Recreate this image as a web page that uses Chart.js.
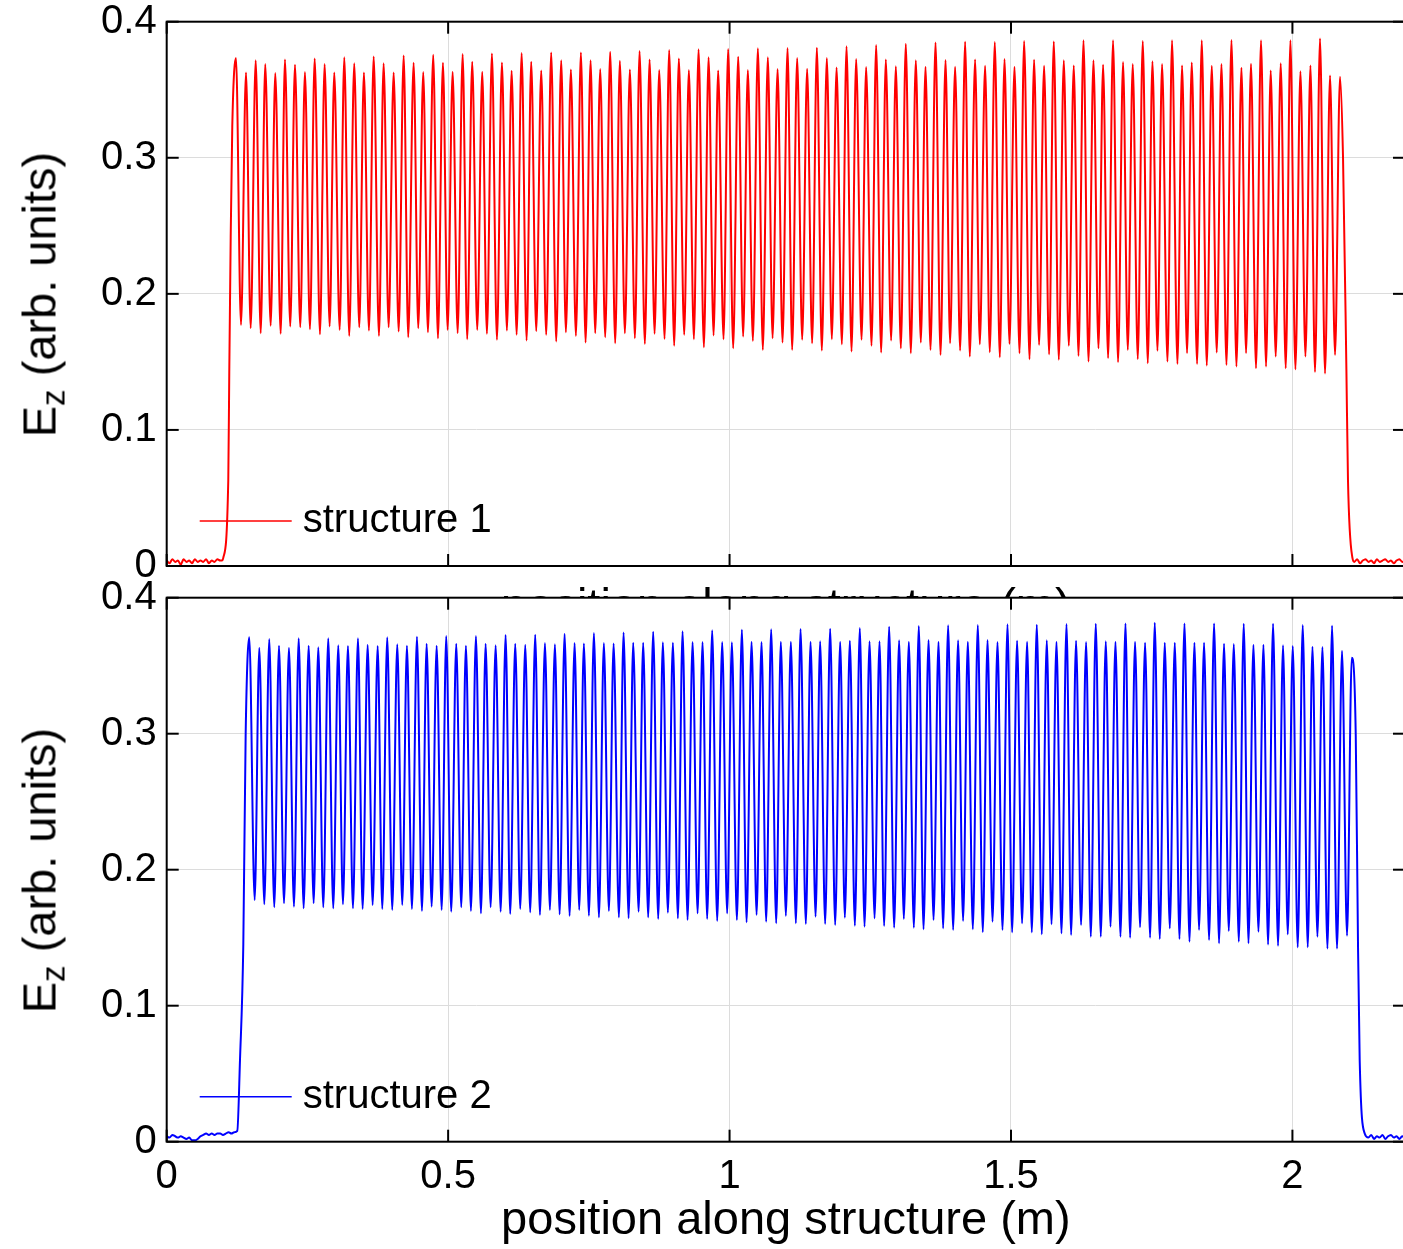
<!DOCTYPE html>
<html>
<head>
<meta charset="utf-8">
<script src="https://cdn.jsdelivr.net/npm/chart.js@4.4.1/dist/chart.umd.min.js"></script>
<style>
  html, body { margin: 0; padding: 0; background: #fff; overflow: hidden; }
  body { width: 1403px; height: 1249px; position: relative; }
  canvas { position: absolute; left: 0; }
  #c1 { top: 0; }
  #c2 { top: 577px; }
  .ylab {
    position: absolute; width: 400px; height: 47px; left: -161px;
    text-align: center; white-space: nowrap; color: #000;
    font-family: "Liberation Sans", Arial, sans-serif; font-size: 47px; line-height: 47px;
    transform: rotate(-90deg);
  }
  .ylab sub { font-size: 33px; line-height: 0; vertical-align: -9px; }
  #yl1 { top: 271px; }
  #yl2 { top: 847px; }
</style>
</head>
<body>
<canvas id="c1" width="1410" height="640"></canvas>
<canvas id="c2" width="1410" height="672"></canvas>
<div class="ylab" id="yl1">E<sub>z</sub> (arb. units)</div>
<div class="ylab" id="yl2">E<sub>z</sub> (arb. units)</div>
<script>
// axes
var xTicks = [0, 0.5, 1, 1.5, 2];
var xTickLabels = ["0", "0.5", "1", "1.5", "2"];
var yTicks = [0, 0.1, 0.2, 0.3, 0.4];
var yTickLabels = ["0", "0.1", "0.2", "0.3", "0.4"];
var xTitle = "position along structure (m)";
var seriesNames = ["structure 1", "structure 2"];

// structure 1 : flat part, rising edge, cell maxima / minima, falling edge
var s1StartX = [0, 0.005, 0.010, 0.015, 0.020, 0.025, 0.030, 0.035, 0.040, 0.045, 0.050, 0.055, 0.060, 0.065, 0.070, 0.075, 0.080, 0.085, 0.090, 0.095, 0.0982, 0.1005, 0.1094, 0.1112, 0.1137, 0.1165];
var s1StartY = [0.004, 0.002, 0.005, 0.003, 0.004, 0.001, 0.005, 0.003, 0.004, 0.002, 0.005, 0.003, 0.004, 0.003, 0.005, 0.002, 0.004, 0.003, 0.005, 0.004, 0.004, 0.006, 0.063, 0.144, 0.242, 0.323];
var s1PeakX = [0.1231,0.1409,0.1581,0.1751,0.1929,0.2101,0.2279,0.2456,0.2629,0.2806,
  0.2977,0.3155,0.3332,0.3504,0.3677,0.3854,0.4032,0.4210,0.4387,0.4558,
  0.4735,0.4908,0.5080,0.5258,0.5428,0.5606,0.5778,0.5956,0.6128,0.6306,
  0.6476,0.6654,0.6831,0.7009,0.7181,0.7359,0.7531,0.7702,0.7879,0.8051,
  0.8229,0.8401,0.8579,0.8750,0.8927,0.9099,0.9277,0.9449,0.9627,0.9797,
  0.9975,1.0153,1.0325,1.0503,1.0680,1.0853,1.1030,1.1201,1.1378,1.1551,
  1.1728,1.1901,1.2078,1.2249,1.2426,1.2604,1.2776,1.2954,1.3131,1.3309,
  1.3481,1.3659,1.3837,1.4007,1.4185,1.4362,1.4540,1.4712,1.4885,1.5062,
  1.5233,1.5410,1.5588,1.5760,1.5938,1.6115,1.6288,1.6465,1.6636,1.6813,
  1.6991,1.7163,1.7341,1.7513,1.7684,1.7861,1.8039,1.8211,1.8389,1.8567,
  1.8739,1.8917,1.9094,1.9264,1.9442,1.9614,1.9792,1.9964,2.0142,2.0320,
  2.0490,2.0668,2.0845];
var s1PeakY = [0.3733,0.3627,0.3716,0.3689,0.3623,0.3723,0.3684,0.3630,0.3730,0.3689,
  0.3627,0.3738,0.3694,0.3627,0.3745,0.3694,0.3627,0.3752,0.3699,0.3630,
  0.3757,0.3699,0.3632,0.3762,0.3706,0.3632,0.3767,0.3701,0.3640,0.3770,
  0.3706,0.3642,0.3774,0.3716,0.3649,0.3774,0.3716,0.3652,0.3779,0.3713,
  0.3649,0.3784,0.3723,0.3645,0.3792,0.3730,0.3645,0.3797,0.3738,0.3642,
  0.3799,0.3743,0.3645,0.3804,0.3738,0.3652,0.3806,0.3733,0.3654,0.3809,
  0.3733,0.3664,0.3819,0.3725,0.3667,0.3828,0.3723,0.3672,0.3838,0.3716,
  0.3669,0.3848,0.3718,0.3669,0.3853,0.3723,0.3676,0.3850,0.3725,0.3669,
  0.3858,0.3721,0.3676,0.3855,0.3716,0.3679,0.3863,0.3716,0.3684,0.3863,
  0.3703,0.3689,0.3858,0.3709,0.3689,0.3863,0.3679,0.3701,0.3863,0.3676,
  0.3689,0.3865,0.3662,0.3691,0.3863,0.3642,0.3694,0.3863,0.3635,0.3679,
  0.3877,0.3605,0.3596];
var s1DipX = [0.1320,0.1492,0.1670,0.1847,0.2025,0.2195,0.2373,0.2545,0.2723,0.2895,
  0.3073,0.3243,0.3421,0.3593,0.3771,0.3943,0.4121,0.4291,0.4469,0.4641,
  0.4819,0.4991,0.5169,0.5339,0.5517,0.5689,0.5867,0.6044,0.6217,0.6394,
  0.6565,0.6742,0.6920,0.7092,0.7270,0.7442,0.7613,0.7790,0.7968,0.8140,
  0.8318,0.8495,0.8668,0.8845,0.9016,0.9194,0.9366,0.9544,0.9716,0.9893,
  1.0064,1.0241,1.0414,1.0591,1.0764,1.0941,1.1112,1.1290,1.1467,1.1639,
  1.1817,1.1995,1.2167,1.2345,1.2522,1.2693,1.2870,1.3043,1.3220,1.3398,
  1.3570,1.3748,1.3918,1.4096,1.4268,1.4446,1.4623,1.4801,1.4973,1.5151,
  1.5329,1.5499,1.5677,1.5849,1.6027,1.6199,1.6377,1.6554,1.6725,1.6902,
  1.7075,1.7252,1.7430,1.7602,1.7780,1.7957,1.8128,1.8306,1.8478,1.8655,
  1.8828,1.9005,1.9176,1.9353,1.9531,1.9703,1.9881,2.0053,2.0231,2.0401,
  2.0579,2.0757];
var s1DipY = [0.1772,0.1748,0.1711,0.1765,0.1706,0.1760,0.1755,0.1740,0.1703,0.1760,
  0.1735,0.1691,0.1755,0.1730,0.1691,0.1755,0.1723,0.1681,0.1748,0.1718,
  0.1674,0.1735,0.1711,0.1667,0.1735,0.1706,0.1662,0.1730,0.1699,0.1657,
  0.1726,0.1699,0.1650,0.1718,0.1691,0.1642,0.1711,0.1681,0.1637,0.1711,
  0.1674,0.1632,0.1706,0.1669,0.1618,0.1699,0.1667,0.1608,0.1694,0.1667,
  0.1600,0.1686,0.1654,0.1588,0.1674,0.1642,0.1588,0.1662,0.1637,0.1583,
  0.1667,0.1630,0.1576,0.1662,0.1618,0.1569,0.1657,0.1600,0.1564,0.1642,
  0.1588,0.1551,0.1637,0.1583,0.1539,0.1630,0.1571,0.1534,0.1632,0.1564,
  0.1520,0.1625,0.1556,0.1515,0.1618,0.1544,0.1502,0.1600,0.1527,0.1498,
  0.1588,0.1520,0.1490,0.1581,0.1502,0.1485,0.1564,0.1485,0.1473,0.1569,
  0.1478,0.1466,0.1564,0.1453,0.1466,0.1539,0.1453,0.1445,0.1539,0.1425,
  0.1415,0.1551];
var s1EndX = [2.0899, 2.0959, 2.0987, 2.1066, 2.110, 2.115, 2.120, 2.125, 2.130, 2.135, 2.140, 2.145, 2.150, 2.155, 2.160, 2.165, 2.170, 2.175, 2.180, 2.185, 2.190, 2.195, 2.200];
var s1EndY = [0.300, 0.144, 0.063, 0.006, 0.003, 0.005, 0.002, 0.004, 0.005, 0.003, 0.004, 0.002, 0.005, 0.003, 0.004, 0.005, 0.003, 0.004, 0.002, 0.004, 0.005, 0.003, 0.004];

// structure 2
var s2StartX = [0, 0.005, 0.010, 0.015, 0.020, 0.025, 0.030, 0.035, 0.040, 0.045, 0.050, 0.055, 0.060, 0.065, 0.070, 0.075, 0.080, 0.085, 0.090, 0.095, 0.100, 0.105, 0.110, 0.115, 0.120, 0.1254, 0.1302, 0.1361, 0.1403];
var s2StartY = [0.004, 0.003, 0.005, 0.004, 0.003, 0.004, 0.003, 0.002, 0.003, 0.001, 0.001, 0.002, 0.004, 0.005, 0.006, 0.005, 0.006, 0.005, 0.006, 0.006, 0.005, 0.006, 0.007, 0.006, 0.007, 0.008, 0.060, 0.145, 0.300];
var s2PeakX = [0.1467,0.1645,0.1822,0.1995,0.2172,0.2345,0.2522,0.2693,0.2870,0.3048,
  0.3220,0.3398,0.3570,0.3748,0.3918,0.4096,0.4268,0.4446,0.4618,0.4796,
  0.4966,0.5144,0.5316,0.5494,0.5666,0.5844,0.6021,0.6192,0.6370,0.6547,
  0.6720,0.6897,0.7069,0.7247,0.7412,0.7590,0.7767,0.7940,0.8117,0.8288,
  0.8465,0.8643,0.8815,0.8993,0.9165,0.9343,0.9520,0.9691,0.9869,1.0041,
  1.0219,1.0391,1.0568,1.0739,1.0911,1.1089,1.1261,1.1439,1.1609,1.1787,
  1.1965,1.2137,1.2314,1.2487,1.2664,1.2835,1.3012,1.3185,1.3362,1.3535,
  1.3712,1.3883,1.4060,1.4233,1.4410,1.4583,1.4760,1.4938,1.5108,1.5286,
  1.5458,1.5636,1.5808,1.5986,1.6156,1.6334,1.6506,1.6684,1.6856,1.7034,
  1.7204,1.7382,1.7554,1.7732,1.7910,1.8082,1.8259,1.8430,1.8608,1.8785,
  1.8958,1.9135,1.9307,1.9485,1.9656,1.9833,2.0006,2.0183,2.0356,2.0533,
  2.0704,2.0881,2.1054];
var s2PeakY = [0.3709,0.3632,0.3696,0.3647,0.3632,0.3701,0.3647,0.3635,0.3701,0.3650,
  0.3645,0.3701,0.3654,0.3645,0.3709,0.3657,0.3647,0.3713,0.3662,0.3647,
  0.3718,0.3662,0.3647,0.3718,0.3662,0.3650,0.3726,0.3662,0.3654,0.3728,
  0.3667,0.3657,0.3735,0.3667,0.3664,0.3740,0.3667,0.3664,0.3745,0.3669,
  0.3669,0.3750,0.3672,0.3669,0.3753,0.3674,0.3674,0.3760,0.3674,0.3672,
  0.3765,0.3676,0.3674,0.3768,0.3676,0.3676,0.3770,0.3676,0.3679,0.3772,
  0.3676,0.3684,0.3777,0.3679,0.3679,0.3787,0.3687,0.3676,0.3792,0.3689,
  0.3676,0.3797,0.3687,0.3676,0.3799,0.3689,0.3674,0.3804,0.3684,0.3676,
  0.3802,0.3687,0.3676,0.3806,0.3684,0.3674,0.3809,0.3679,0.3676,0.3811,
  0.3676,0.3669,0.3816,0.3669,0.3669,0.3811,0.3669,0.3669,0.3811,0.3662,
  0.3659,0.3809,0.3654,0.3654,0.3809,0.3650,0.3645,0.3799,0.3640,0.3637,
  0.3794,0.3610,0.3559];
var s2DipX = [0.1563,0.1734,0.1911,0.2084,0.2261,0.2433,0.2611,0.2782,0.2959,0.3131,
  0.3309,0.3481,0.3659,0.3830,0.4007,0.4185,0.4357,0.4535,0.4707,0.4885,
  0.5055,0.5233,0.5405,0.5583,0.5755,0.5933,0.6103,0.6281,0.6458,0.6631,
  0.6808,0.6981,0.7158,0.7329,0.7501,0.7679,0.7856,0.8034,0.8206,0.8384,
  0.8554,0.8732,0.8904,0.9082,0.9254,0.9432,0.9602,0.9780,0.9957,1.0130,
  1.0302,1.0480,1.0650,1.0828,1.1000,1.1178,1.1355,1.1528,1.1698,1.1876,
  1.2048,1.2226,1.2398,1.2576,1.2746,1.2924,1.3096,1.3274,1.3446,1.3624,
  1.3794,1.3972,1.4149,1.4322,1.4499,1.4672,1.4849,1.5020,1.5197,1.5370,
  1.5547,1.5720,1.5897,1.6068,1.6245,1.6418,1.6595,1.6768,1.6945,1.7116,
  1.7293,1.7471,1.7643,1.7821,1.7993,1.8171,1.8341,1.8519,1.8696,1.8869,
  1.9047,1.9219,1.9396,1.9567,1.9744,1.9917,2.0094,2.0272,2.0444,2.0622,
  2.0792,2.0970];
var s2DipY = [0.1777,0.1746,0.1724,0.1753,0.1728,0.1716,0.1753,0.1724,0.1716,0.1746,
  0.1716,0.1711,0.1740,0.1711,0.1704,0.1740,0.1711,0.1696,0.1728,0.1704,
  0.1691,0.1724,0.1696,0.1679,0.1724,0.1691,0.1674,0.1711,0.1687,0.1667,
  0.1704,0.1672,0.1660,0.1704,0.1662,0.1650,0.1696,0.1650,0.1643,0.1691,
  0.1650,0.1638,0.1684,0.1643,0.1630,0.1679,0.1638,0.1623,0.1679,0.1630,
  0.1613,0.1667,0.1618,0.1606,0.1660,0.1606,0.1601,0.1654,0.1601,0.1593,
  0.1647,0.1588,0.1581,0.1643,0.1586,0.1574,0.1638,0.1574,0.1562,0.1630,
  0.1569,0.1557,0.1623,0.1562,0.1540,0.1618,0.1557,0.1540,0.1606,0.1540,
  0.1525,0.1599,0.1532,0.1520,0.1593,0.1507,0.1507,0.1581,0.1507,0.1500,
  0.1577,0.1500,0.1490,0.1569,0.1490,0.1471,0.1557,0.1483,0.1459,0.1549,
  0.1471,0.1459,0.1544,0.1450,0.1440,0.1525,0.1430,0.1430,0.1507,0.1420,
  0.1420,0.1515];
var s2EndX = [2.1125, 2.1165, 2.1195, 2.1284, 2.135, 2.140, 2.145, 2.150, 2.155, 2.160, 2.165, 2.170, 2.175, 2.180, 2.185, 2.190, 2.195, 2.200];
var s2EndY = [0.299, 0.145, 0.060, 0.006, 0.003, 0.005, 0.002, 0.004, 0.003, 0.005, 0.002, 0.004, 0.005, 0.003, 0.004, 0.002, 0.004, 0.003];

var FONT = '"Liberation Sans", Arial, Helvetica, sans-serif';
Chart.defaults.font.family = FONT;
Chart.defaults.color = "#000";

// put the pieces of one trace in order
function buildPoints(sx, sy, px, py, dx, dy, ex, ey) {
  var pts = [];
  for (var i = 0; i < sx.length; i++) pts.push({x: sx[i], y: sy[i]});
  for (var j = 0; j < px.length; j++) {
    pts.push({x: px[j], y: py[j]});
    if (j < dx.length) pts.push({x: dx[j], y: dy[j]});
  }
  for (var k = 0; k < ex.length; k++) pts.push({x: ex[k], y: ey[k]});
  return pts;
}

function seg(ctx, x1, y1, x2, y2) {
  ctx.beginPath(); ctx.moveTo(x1, y1); ctx.lineTo(x2, y2); ctx.stroke();
}

var whiteArea = {
  id: "whiteArea",
  beforeDraw: function (chart) {
    var a = chart.chartArea, ctx = chart.ctx;
    ctx.save(); ctx.fillStyle = "#fff";
    ctx.fillRect(a.left, a.top, a.right - a.left, a.bottom - a.top);
    ctx.restore();
  }
};

// box with inward ticks on all sides, matlab style
var frame = {
  id: "frame",
  afterDatasetsDraw: function (chart) {
    var ctx = chart.ctx, a = chart.chartArea, sx = chart.scales.x, sy = chart.scales.y;
    ctx.save();
    ctx.strokeStyle = "#000"; ctx.lineWidth = 2;
    sx.ticks.forEach(function (t) {
      var p = sx.getPixelForValue(t.value);
      seg(ctx, p, a.bottom, p, a.bottom - 12);
      seg(ctx, p, a.top, p, a.top + 12);
    });
    sy.ticks.forEach(function (t) {
      var p = sy.getPixelForValue(t.value);
      seg(ctx, a.left, p, a.left + 12, p);
      seg(ctx, a.right, p, a.right - 12, p);
    });
    ctx.strokeRect(a.left, a.top, a.right - a.left, a.bottom - a.top);
    ctx.restore();
  }
};

var legendBox = {
  id: "legendBox",
  afterDatasetsDraw: function (chart) {
    var ctx = chart.ctx, a = chart.chartArea, ds = chart.data.datasets[0];
    var ly = a.bottom - 45;
    ctx.save();
    ctx.strokeStyle = ds.borderColor; ctx.lineWidth = 1.5;
    seg(ctx, a.left + 33, ly, a.left + 125, ly);
    ctx.fillStyle = "#000";
    ctx.font = "40px " + FONT;
    ctx.textBaseline = "middle";
    ctx.fillText(ds.label, a.left + 136, ly);
    ctx.restore();
  }
};

function makePanel(id, label, color, points, showX, topPad, axisH, titlePad, extra) {
  return new Chart(document.getElementById(id), {
    type: "line",
    data: {
      datasets: [{
        label: label,
        data: points,
        borderColor: color,
        borderWidth: 2,
        pointRadius: 0,
        fill: false,
        cubicInterpolationMode: "monotone"
      }]
    },
    options: {
      responsive: false,
      animation: false,
      devicePixelRatio: 1,
      layout: { padding: { left: 0, right: 5, top: topPad, bottom: 0 } },
      plugins: { legend: { display: false }, tooltip: { enabled: false } },
      scales: {
        x: {
          type: "linear", min: 0, max: 2.2,
          afterBuildTicks: function (s) { s.ticks = xTicks.map(function (v) { return {value: v}; }); },
          afterFit: function (s) { s.height = axisH; s.paddingLeft = 0; s.paddingRight = 0; },
          grid: { color: "#dcdcdc", lineWidth: 1, drawTicks: false },
          border: { display: false },
          ticks: {
            display: showX, padding: 11, font: { size: 40 }, color: "#000", maxRotation: 0,
            callback: function (v, i) { return xTickLabels[i]; }
          },
          title: { display: true, text: xTitle, font: { size: 47 }, color: "#000", padding: { top: 0, bottom: titlePad } }
        },
        y: {
          type: "linear", min: 0, max: 0.4,
          afterBuildTicks: function (s) { s.ticks = yTicks.map(function (v) { return {value: v}; }); },
          afterFit: function (s) { s.width = 166.7; s.paddingTop = 0; s.paddingBottom = 0; },
          grid: { color: "#dcdcdc", lineWidth: 1, drawTicks: false },
          border: { display: false },
          ticks: {
            padding: 10, font: { size: 40 }, color: "#000",
            callback: function (v, i) { return yTickLabels[i]; }
          }
        }
      }
    },
    plugins: extra.concat([frame, legendBox])
  });
}

var pts1 = buildPoints(s1StartX, s1StartY, s1PeakX, s1PeakY, s1DipX, s1DipY, s1EndX, s1EndY);
var pts2 = buildPoints(s2StartX, s2StartY, s2PeakX, s2PeakY, s2DipX, s2DipY, s2EndX, s2EndY);

makePanel("c1", seriesNames[0], "#ff0000", pts1, false, 21.7, 74, 4, []);
makePanel("c2", seriesNames[1], "#0000ff", pts2, true, 20.7, 107.3, 0, [whiteArea]);
</script>
</body>
</html>
